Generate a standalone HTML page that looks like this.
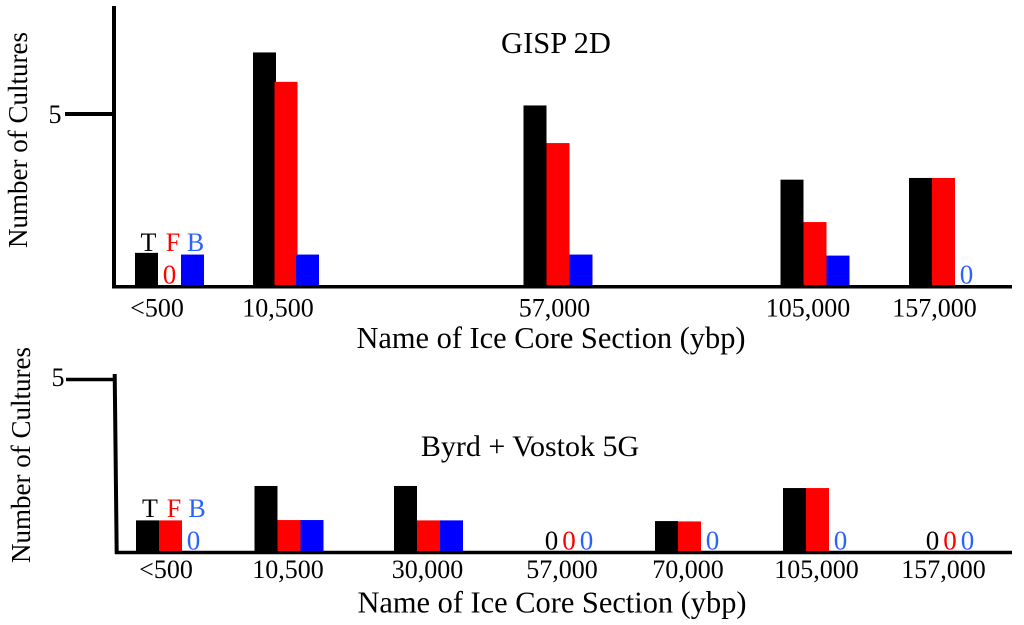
<!DOCTYPE html>
<html lang="en">
<head>
<meta charset="utf-8">
<title>Number of Cultures by Ice Core Section</title>
<style>
  html, body { margin: 0; padding: 0; background: #fff; }
  svg { display: block; }
  text { font-family: "Liberation Serif", serif; fill: #000; }
</style>
</head>
<body>
<svg id="chart" width="1024" height="625" viewBox="0 0 1024 625" xmlns="http://www.w3.org/2000/svg">
  <rect x="0" y="0" width="1024" height="625" fill="#fff"/>
  <g id="top-panel">
    <line x1="114" y1="6" x2="114" y2="288" stroke="#000" stroke-width="4"/>
    <line x1="112" y1="286.8" x2="1012" y2="286.8" stroke="#000" stroke-width="3.5"/>
    <line x1="65" y1="114" x2="114" y2="114" stroke="#000" stroke-width="4"/>
    <text x="55" y="123" font-size="26" text-anchor="middle">5</text>
    <text transform="translate(27,140) rotate(-90)" font-size="27" text-anchor="middle">Number of Cultures</text>
    <text x="556" y="53" font-size="30.5" text-anchor="middle">GISP 2D</text>
    <text x="551" y="348" font-size="30.4" text-anchor="middle">Name of Ice Core Section (ybp)</text>
    <text x="148.5" y="251" font-size="26" text-anchor="middle">T</text>
    <text x="173" y="251" font-size="26" text-anchor="middle" style="fill:#ff0000">F</text>
    <text x="195.5" y="251" font-size="26" text-anchor="middle" style="fill:#2a62ff">B</text>
  </g>
  <g id="bottom-panel">
    <polygon points="112.7,374 116.7,374 118.7,554 114.7,554" fill="#000"/>
    <line x1="115" y1="552.5" x2="1012" y2="552.5" stroke="#000" stroke-width="3.5"/>
    <line x1="66" y1="379.5" x2="115" y2="379.5" stroke="#000" stroke-width="3.5"/>
    <text x="58" y="386" font-size="26" text-anchor="middle">5</text>
    <text transform="translate(30,455) rotate(-90)" font-size="27" text-anchor="middle">Number of Cultures</text>
    <text x="530" y="456" font-size="30" text-anchor="middle">Byrd + Vostok 5G</text>
    <text x="552" y="612.5" font-size="30.4" text-anchor="middle">Name of Ice Core Section (ybp)</text>
    <text x="150" y="517" font-size="26" text-anchor="middle">T</text>
    <text x="174" y="517" font-size="26" text-anchor="middle" style="fill:#ff0000">F</text>
    <text x="197" y="517" font-size="26" text-anchor="middle" style="fill:#2a62ff">B</text>
  </g>
</svg>
<script>
// GISP 2D data
const topCategories = ['<500', '10,500', '57,000', '105,000', '157,000'];
const topT = [0.94, 6.8, 5.25, 3.08, 3.13];
const topF = [0, 5.94, 4.15, 1.84, 3.13];
const topB = [0.89, 0.89, 0.89, 0.86, 0];

// Byrd + Vostok 5G data
const bottomCategories = ['<500', '10,500', '30,000', '57,000', '70,000', '105,000', '157,000'];
const bottomT = [0.89, 1.89, 1.89, 0, 0.87, 1.83, 0];
const bottomF = [0.89, 0.9, 0.89, 0, 0.86, 1.83, 0];
const bottomB = [0, 0.9, 0.89, 0, 0, 0, 0];

const seriesColors = ['#000000', '#ff0000', '#0000ff'];
const zeroColors = ['#000000', '#ff0000', '#2a62ff'];
const seriesKeys = ['t', 'f', 'b'];

const SVG_NS = 'http://www.w3.org/2000/svg';

// The original section axis is hand-spaced, so each panel has its own band lookup.
function topGroupCenter(i) {
  const centers = [169.5, 286, 558, 815, 943.5];
  return centers[i];
}
function topGroupSpacing(i) {
  return i === 1 ? 21.5 : 23;
}
function topLabelCenter(i) {
  const centers = [157, 278, 554.5, 808, 934.5];
  return centers[i];
}
function bottomGroupCenter(i) {
  const centers = [170.5, 289, 428.5, 569, 689.5, 817.5, 950];
  return centers[i];
}
function bottomGroupSpacing(i) {
  return 23;
}
function bottomLabelCenter(i) {
  const centers = [166, 288, 427.5, 562, 688, 816.5, 943.5];
  return centers[i];
}
function topY(v) { return 285 - v * 34.2; }
function bottomY(v) { return 551 - v * 34.4; }

function drawPanel(parentId, prefix, categories, series, groupCenter, groupSpacing, labelCenter, yScale, labelBaseline) {
  const parent = document.getElementById(parentId);
  const barWidth = 23;
  const baseline = yScale(0);
  categories.forEach(function (category, i) {
    const allZero = series.every(function (s) { return s[i] === 0; });
    const spacing = allZero ? 17.5 : groupSpacing(i);
    series.forEach(function (values, s) {
      const value = values[i];
      const cx = groupCenter(i) + (s - 1) * spacing;
      if (value > 0) {
        const bar = document.createElementNS(SVG_NS, 'rect');
        
        
        bar.setAttribute('x', cx - barWidth / 2);
        bar.setAttribute('y', yScale(value));
        bar.setAttribute('width', barWidth);
        bar.setAttribute('height', baseline - yScale(value));
        bar.setAttribute('fill', seriesColors[s]);
        parent.appendChild(bar);
      } else {
        const zero = document.createElementNS(SVG_NS, 'text');
        
        
        zero.setAttribute('x', cx);
        zero.setAttribute('y', baseline - 1.5);
        zero.setAttribute('font-size', '27');
        zero.setAttribute('text-anchor', 'middle');
        zero.style.fill = zeroColors[s];
        zero.textContent = '0';
        parent.appendChild(zero);
      }
    });
    const label = document.createElementNS(SVG_NS, 'text');
    
    
    label.setAttribute('x', labelCenter(i));
    label.setAttribute('y', labelBaseline);
    label.setAttribute('font-size', '26');
    label.setAttribute('text-anchor', 'middle');
    label.textContent = category;
    parent.appendChild(label);
  });
}

drawPanel('top-panel', 'top', topCategories, [topT, topF, topB], topGroupCenter, topGroupSpacing, topLabelCenter, topY, 316.5);
drawPanel('bottom-panel', 'bottom', bottomCategories, [bottomT, bottomF, bottomB], bottomGroupCenter, bottomGroupSpacing, bottomLabelCenter, bottomY, 578);
</script>
</body>
</html>
